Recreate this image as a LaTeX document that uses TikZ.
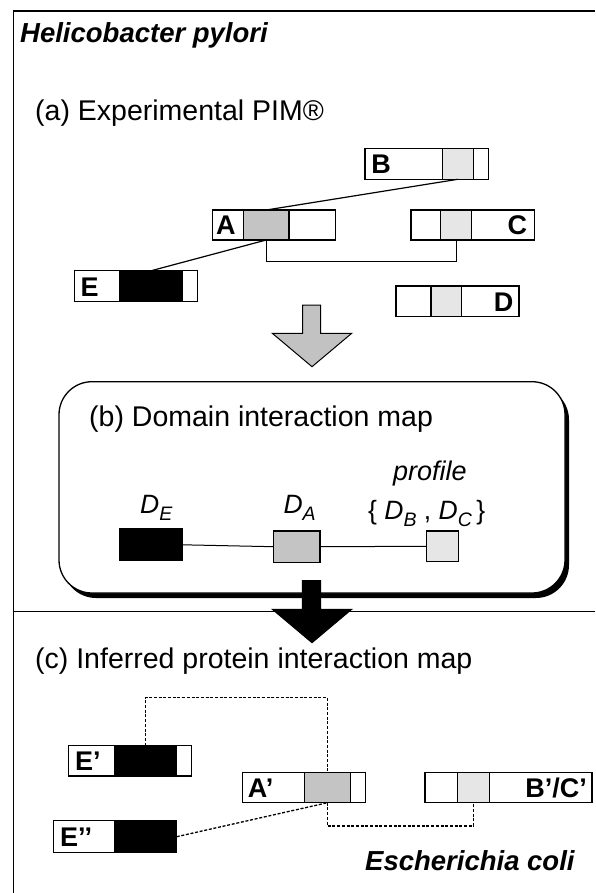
\documentclass[tikz,border=0pt]{standalone}
\usepackage{fontspec}
\setmainfont{Liberation Sans}
\definecolor{gmid}{HTML}{C4C4C4}
\definecolor{glight}{HTML}{E6E6E6}
\definecolor{garrow}{HTML}{C2C2C2}
\newcommand\Dsub[1]{\textit{D}\raisebox{-0.3em}{\fontsize{19.5}{19.5}\selectfont\textit{#1}}}
\begin{document}
\begin{tikzpicture}[x=1pt,y=-1pt,
 prot/.style={draw, line width=1.3pt, fill=white, minimum height=30pt, inner sep=0pt, outer sep=0pt},
 dom/.style={draw, line width=1.3pt, minimum height=30pt, inner sep=0pt, outer sep=0pt},
 lbl/.style={font=\fontsize{27}{27}\selectfont\bfseries, inner sep=0pt},
 dlbl/.style={font=\fontsize{26.5}{26.5}\selectfont, inner sep=0pt, anchor=base west},
 plbl/.style={font=\fontsize{27}{27}\selectfont\itshape, inner sep=0pt, anchor=base west},
 title/.style={font=\fontsize{28.5}{30}\selectfont, inner sep=0pt, anchor=base west},
 species/.style={font=\fontsize{27.5}{30}\selectfont\bfseries\itshape, inner sep=0pt, anchor=base west},
 link/.style={line width=1.2pt},
 dlink/.style={line width=1.3pt, dash pattern=on 3pt off 1.7pt},
 bigarrow/.style={draw=black, line width=1pt, line join=miter},
]
\useasboundingbox (0,0) rectangle (595,893);

% frame
\draw[line width=2pt] (13.3,11) -- (595,11);
\draw[line width=1.5pt] (13.3,10) -- (13.3,893);

% titles
\node[species] (hp) at (20,42.7) {Helicobacter pylori};
\node[title] (ta) at (35,120.7) {(a) Experimental PIM®};

% (a) proteins
\node[prot, minimum width=123pt] (A) at (273.8,225) {};
\node[dom, fill=gmid, minimum width=45.7pt] (Ad) at (266.2,225) {};
\node[lbl, anchor=base west] (Al) at ([xshift=3.5pt,yshift=-9.6pt]A.west) {A};

\node[prot, minimum width=123.3pt, minimum height=31pt] (B) at (426.7,163.8) {};
\node[dom, fill=glight, minimum width=31pt, minimum height=31pt] (Bd) at (457.8,163.8) {};
\node[lbl, anchor=base west] (Bl) at ([xshift=6pt,yshift=-9.8pt]B.west) {B};

\node[prot, minimum width=123.3pt] (C) at (472.7,225) {};
\node[dom, fill=glight, minimum width=31pt] (Cd) at (456.2,225) {};
\node[lbl, anchor=base east] (Cl) at ([xshift=-7pt,yshift=-9.6pt]C.east) {C};

\node[prot, minimum width=123pt, minimum height=30.7pt] (D) at (457.5,301.3) {};
\node[dom, fill=glight, minimum width=30.7pt, minimum height=30.7pt] (Dd) at (446.3,301.3) {};
\node[lbl, anchor=base east] (Dl) at ([xshift=-5.5pt,yshift=-9.7pt]D.east) {D};

\node[prot, minimum width=123pt, minimum height=31pt] (E) at (135.8,286.2) {};
\node[dom, fill=black, minimum width=62.7pt, minimum height=31pt] (Ed) at (151.3,286.2) {};
\node[lbl, anchor=base west] (El) at ([xshift=6pt,yshift=-9.8pt]E.west) {E};

\draw[link] (Ad.north) -- (Bd.south);
\draw[link] (Ad.south) -- (Ed.north);
\draw[link] (Ad.south) -- ++(0,21.7) -| (Cd.south);

% gray arrow
\draw[bigarrow, fill=garrow] (302.7,305) -- (320.5,305) -- (320.5,333.3) -- (351.7,333.3)
  -- (312,366.7) -- (272.3,333.3) -- (302.7,333.3) -- cycle;

% (b) box
\node[fill=black, rounded corners=33pt, minimum width=506pt, minimum height=211.3pt, inner sep=0pt] (bshadow) at (316,492.35) {};
\node[draw, line width=1.3pt, fill=white, rounded corners=33pt, minimum width=506pt, minimum height=211.3pt, inner sep=0pt] (bbox) at (312,487.35) {};
\node[title] (tb) at (89,426.7) {(b) Domain interaction map};

\node[dom, fill=black, minimum width=62.7pt, minimum height=31.7pt] (DE) at (151.3,544.8) {};
\node[dom, fill=gmid, minimum width=46.7pt, minimum height=31.3pt] (DA) at (296.7,546.7) {};
\node[dom, fill=glight, minimum width=31.6pt, minimum height=30.7pt] (DBC) at (442.5,546.3) {};
\draw[line width=1pt] (DE.east) -- (DA.west);
\draw[line width=1pt] (DA.east) -- (DBC.west);
\node[dlbl] (DEl) at (140,513) {\Dsub{E}};
\node[dlbl] (DAl) at (283.3,513) {\Dsub{A}};
\node[plbl] (prof) at (393,480) {profile};
\node[dlbl] (DBCl) at (368,519) {\{ \Dsub{B} , \Dsub{C}\,\}};

% divider
\draw[line width=1.5pt] (13.3,611.7) -- (595,611.7);

% black arrow
\draw[bigarrow, fill=black] (302.3,580.7) -- (320.5,580.7) -- (320.5,609.3) -- (351.7,609.3)
  -- (312,642.7) -- (272.3,609.3) -- (302.3,609.3) -- cycle;

% (c)
\node[title] (tc) at (35,668.3) {(c) Inferred protein interaction map};

\node[prot, minimum width=123.4pt, minimum height=30.3pt] (E1) at (130,760.8) {};
\node[dom, fill=black, minimum width=62.4pt, minimum height=30.3pt] (E1d) at (145.5,760.8) {};
\node[lbl, anchor=base west] (E1l) at ([xshift=6.5pt,yshift=-9.6pt]E1.west) {E’};

\node[prot, minimum width=123.4pt, minimum height=32pt] (E2) at (115,836.7) {};
\node[dom, fill=black, minimum width=62.4pt, minimum height=32pt] (E2d) at (145.5,836.7) {};
\node[lbl, anchor=base west] (E2l) at ([xshift=6.5pt,yshift=-10pt]E2.west) {E’’};

\node[prot, minimum width=123pt, minimum height=30.4pt] (A1) at (304.2,787.5) {};
\node[dom, fill=gmid, minimum width=46.4pt, minimum height=30.4pt] (A1d) at (327.5,787.5) {};
\node[lbl, anchor=base west] (A1l) at ([xshift=5pt,yshift=-9.6pt]A1.west) {A’};

\node[prot, minimum width=167pt, minimum height=30.4pt] (BC) at (508.5,787.5) {};
\node[dom, fill=glight, minimum width=31.6pt, minimum height=30.4pt] (BCd) at (473.5,787.5) {};
\node[lbl, anchor=base east] (BCl) at ([xshift=-5pt,yshift=-9.6pt]BC.east) {B’/C’};

\draw[dlink] (E1d.north) -- ++(0,-48) -| (A1d.north);
\draw[dlink] (E2d.east) -- (A1d.south);
\draw[dlink] (A1d.south) -- ++(0,23.3) -| (BCd.south);

\node[species] (ec) at (365,870) {Escherichia coli};
\end{tikzpicture}
\end{document}
